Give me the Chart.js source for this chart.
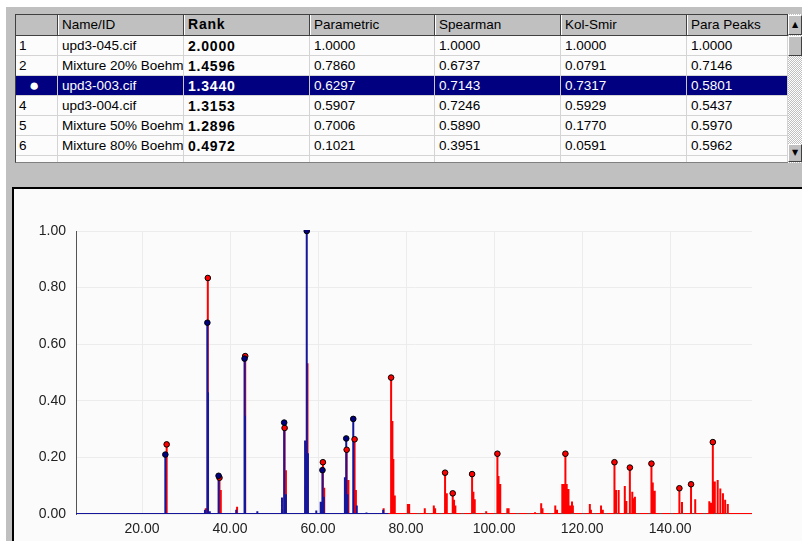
<!DOCTYPE html>
<html>
<head>
<meta charset="utf-8">
<script src="https://cdn.jsdelivr.net/npm/chart.js@4/dist/chart.umd.min.js"></script>
<style>
  html, body { margin: 0; padding: 0; background: #fff; width: 802px; height: 541px; overflow: hidden; }
  #bg { position: absolute; left: 6px; top: 7px; right: 0; bottom: 0; background: #c0c0c0; }
  .cell { position: absolute; box-sizing: border-box; overflow: hidden; white-space: nowrap;
          font: 13.5px "Liberation Sans", Arial, sans-serif; color: #000; padding-left: 4px; line-height: 20px;
          border-right: 1px solid #d4d4d4; border-bottom: 1px solid #d4d4d4; background: #fcfcfc; }
  .hdr { background: #c0c0c0; border-right: 1px solid #404040; border-bottom: 1px solid #404040;
         box-shadow: inset 1px 1px 0 #fff; line-height: 21px; }
  .b { font-weight: bold; font-size: 14px; letter-spacing: 0.8px; }
  .sel { background: #000080; color: #fff; border-right-color: #c8c8c8; }
  #panel { position: absolute; left: 12px; top: 187px; width: 790px; height: 354px; box-sizing: border-box;
           border-left: 2px solid #000; border-top: 2px solid #000; background: #fafbfa; }
  #sb { position: absolute; left: 788px; top: 14px; width: 14px; height: 149px;
        background-color: #e0e0e0;
        background-image: repeating-conic-gradient(#c0c0c0 0 25%, #fff 0 50%); background-size: 2px 2px; }
  .btn { position: absolute; left: 0; width: 14px; background: #c0c0c0; box-sizing: border-box;
         border-top: 1px solid #fff; border-left: 1px solid #fff; border-right: 1px solid #404040; border-bottom: 1px solid #404040;
         font: 8px "DejaVu Sans", sans-serif; text-align: center; color: #000; }
</style>
</head>
<body>
<div id="bg"></div>
<div id="tbl"></div>
<div id="sb">
  <div class="btn" style="top:1px;height:20px;line-height:18px;">▲</div>
  <div class="btn" style="top:22px;height:20px;"></div>
  <div class="btn" style="top:130px;height:18px;line-height:16px;">▼</div>
</div>
<div id="panel"><canvas id="chart" width="788" height="352"></canvas></div>
<script>
// table values
var colHeaders = ['', 'Name/ID', 'Rank', 'Parametric', 'Spearman', 'Kol-Smir', 'Para Peaks'];
var rowIndex = ['1', '2', '●', '4', '5', '6'];
var names = ['upd3-045.cif', 'Mixture 20% Boehm', 'upd3-003.cif', 'upd3-004.cif', 'Mixture 50% Boehm', 'Mixture 80% Boehm'];
var rank = ['2.0000', '1.4596', '1.3440', '1.3153', '1.2896', '0.4972'];
var parametric = ['1.0000', '0.7860', '0.6297', '0.5907', '0.7006', '0.1021'];
var spearman = ['1.0000', '0.6737', '0.7143', '0.7246', '0.5890', '0.3951'];
var kolSmir = ['1.0000', '0.0791', '0.7317', '0.5929', '0.1770', '0.0591'];
var paraPeaks = ['1.0000', '0.7146', '0.5801', '0.5437', '0.5970', '0.5962'];
var selectedRow = 2;

// chart values
var xTickValues = [20, 40, 60, 80, 100, 120, 140];
var yTickValues = [0, 0.2, 0.4, 0.6, 0.8, 1.0];

var redPeakX = [25.6, 34.95, 37.6, 43.45, 52.4, 61.1, 66.5, 68.3, 76.6, 88.86, 90.6, 95.0, 100.75, 116.2, 127.35, 130.85, 135.75, 142.1, 144.75, 149.7];
var redPeakY = [0.246, 0.834, 0.128, 0.558, 0.304, 0.183, 0.227, 0.264, 0.482, 0.146, 0.073, 0.141, 0.213, 0.213, 0.183, 0.164, 0.178, 0.091, 0.105, 0.254];
var redMinorX = [34.5, 37.9, 41.6, 52.7, 57.2, 57.6, 61.4, 66.9, 68.6, 74.9, 76.89, 77.11, 77.43, 80.4, 80.7, 84.25, 86.3, 86.6, 89.25, 90.9,
  91.2, 95.3, 95.6, 98.2, 101.0, 101.4, 103.0, 103.3, 109.3, 110.7, 111.0, 113.9, 114.3, 115.5, 115.85, 116.5, 116.9, 117.3, 117.7, 117.9,
  121.75, 122.0, 124.3, 124.7, 127.7, 128.3, 129.7, 130.05, 131.4, 131.75, 132.0, 136.05, 136.5, 142.7, 145.7, 148.9, 149.3, 150.15, 150.8, 151.4,
  152.0, 152.5, 153.1];
var redMinorY = [0.02, 0.085, 0.026, 0.155, 0.1, 0.533, 0.093, 0.12, 0.085, 0.02, 0.329, 0.194, 0.065, 0.035, 0.035, 0.02, 0.03, 0.02, 0.073, 0.05,
  0.03, 0.079, 0.052, 0.01, 0.134, 0.106, 0.02, 0.02, 0.006, 0.038, 0.02, 0.03, 0.015, 0.106, 0.106, 0.106, 0.088, 0.03, 0.044, 0.03,
  0.035, 0.015, 0.03, 0.015, 0.085, 0.085, 0.099, 0.046, 0.079, 0.056, 0.061, 0.111, 0.082, 0.042, 0.052, 0.045, 0.04, 0.115, 0.12, 0.09,
  0.073, 0.05, 0.035];

var bluePeakX = [25.3, 34.85, 37.4, 43.3, 52.3, 57.43, 61.0, 66.4, 68.0];
var bluePeakY = [0.21, 0.676, 0.135, 0.549, 0.323, 1.0, 0.155, 0.267, 0.336];
var blueMinorX = [34.3, 35.0, 35.4, 41.4, 43.4, 46.2, 51.8, 52.7, 57.05, 57.7, 59.6, 60.6, 61.3, 66.1, 66.7, 68.8, 71.0, 74.8];
var blueMinorY = [0.015, 0.43, 0.01, 0.015, 0.347, 0.01, 0.058, 0.07, 0.26, 0.215, 0.012, 0.043, 0.061, 0.13, 0.07, 0.03, 0.005, 0.015];

// build the grid
var colEdges = [15, 58, 184, 310, 435, 561, 687, 788];
var tbl = document.getElementById('tbl');
function addCell(x, y, w, h, text, cls) {
  var d = document.createElement('div');
  d.className = 'cell ' + cls;
  d.style.left = x + 'px'; d.style.top = y + 'px';
  d.style.width = w + 'px'; d.style.height = h + 'px';
  d.textContent = text;
  tbl.appendChild(d);
  return d;
}
for (var c = 0; c < colHeaders.length; c++) {
  addCell(colEdges[c], 14, colEdges[c + 1] - colEdges[c], 22, colHeaders[c], 'hdr' + (c == 2 ? ' b' : ''));
}
var columns = [rowIndex, names, rank, parametric, spearman, kolSmir, paraPeaks];
for (var r = 0; r < rowIndex.length + 1; r++) {
  var rowTop = 36 + r * 20;
  var rowH = r < rowIndex.length ? 20 : 163 - rowTop;
  for (var c = 0; c < columns.length; c++) {
    var txt = r < rowIndex.length ? columns[c][r] : '';
    var cls = (c == 2 ? 'b' : '') + (r == selectedRow ? ' sel' : '');
    var d = addCell(colEdges[c], rowTop, colEdges[c + 1] - colEdges[c], rowH, txt, cls);
    if (c == 0 && r == selectedRow) { d.style.paddingLeft = '14px'; d.style.fontSize = '17px'; d.style.lineHeight = '19px'; }
  }
}
var edge = document.createElement('div');
edge.style.cssText = 'position:absolute;left:15px;top:14px;width:773px;height:149px;border-left:1px solid #404040;border-top:1px solid #404040;border-bottom:1px solid #808080;box-sizing:border-box;';
tbl.appendChild(edge);

// turn peak lists into stick spectra along the baseline
function sticks(xs, ys, from, to) {
  var pk = xs.map(function (x, i) { return { x: x, y: ys[i] }; });
  pk.sort(function (a, b) { return a.x - b.x; });
  var pts = [{ x: from, y: 0 }];
  pk.forEach(function (p) {
    pts.push({ x: p.x, y: 0 }, { x: p.x, y: p.y }, { x: p.x, y: 0 });
  });
  pts.push({ x: to, y: 0 });
  return pts;
}
function dots(xs, ys) {
  return xs.map(function (x, i) { return { x: x, y: ys[i] }; });
}

var redSticks = sticks(redPeakX.concat(redMinorX), redPeakY.concat(redMinorY), 5, 158.6);
var blueSticks = sticks(bluePeakX.concat(blueMinorX), bluePeakY.concat(blueMinorY), 5, 76);

var tickFont = { family: 'Liberation Sans, Arial, sans-serif', size: 14 };

var ctx = document.getElementById('chart').getContext('2d');
var myChart = new Chart(ctx, {
  type: 'line',
  data: {
    datasets: [{
      data: dots(bluePeakX, bluePeakY),
      showLine: false,
      pointRadius: 2.8,
      pointBackgroundColor: '#000080',
      pointBorderColor: '#000',
      pointBorderWidth: 1,
      clip: { left: 5, right: 5, top: 1, bottom: 5 }
    },
    {
      data: dots(redPeakX, redPeakY),
      showLine: false,
      pointRadius: 2.8,
      pointBackgroundColor: '#ff0000',
      pointBorderColor: '#000',
      pointBorderWidth: 1
    },
    {
      data: blueSticks,
      borderColor: '#16169a',
      borderWidth: 2,
      pointRadius: 0,
      borderJoinStyle: 'bevel'
    },
    {
      data: [{ x: 80, y: 0 }, { x: 155, y: 0 }],
      borderColor: '#555',
      borderWidth: 1.5,
      borderDash: [3, 8],
      pointRadius: 0
    },
    {
      data: redSticks,
      borderColor: '#ff0000',
      borderWidth: 2,
      pointRadius: 0,
      borderJoinStyle: 'bevel'
    }]
  },
  options: {
    responsive: false,
    animation: false,
    devicePixelRatio: 1,
    elements: { line: { tension: 0 } },
    layout: { padding: { top: 42, right: 50, left: 0, bottom: 0 } },
    plugins: { legend: { display: false }, tooltip: { enabled: false } },
    scales: {
      x: {
        type: 'linear',
        min: 5,
        max: 158.6,
        afterBuildTicks: function (s) { s.ticks = xTickValues.map(function (v) { return { value: v }; }); },
        afterFit: function (s) { s.height = 27; },
        grid: { color: '#ececec', drawTicks: false },
        border: { display: false },
        ticks: {
          font: tickFont, color: '#222', padding: 7, maxRotation: 0, autoSkip: false,
          callback: function (v) { return Number(v).toFixed(2); }
        }
      },
      y: {
        min: 0,
        max: 1,
        afterBuildTicks: function (s) { s.ticks = yTickValues.map(function (v) { return { value: v }; }); },
        afterFit: function (s) { s.width = 62; },
        grid: { color: '#ececec', drawTicks: false },
        border: { display: true, color: '#555', width: 1 },
        ticks: {
          font: tickFont, color: '#222', padding: 10,
          callback: function (v) { return Number(v).toFixed(2); }
        }
      }
    }
  }
});
</script>
</body>
</html>
